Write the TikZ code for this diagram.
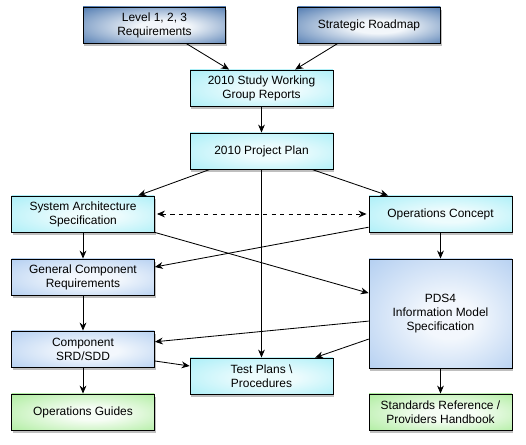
\documentclass[tikz,border=0pt]{standalone}
\usepackage{fontspec}
\setmainfont{Liberation Sans}
\usepackage{tikz}
\definecolor{roadblue}{HTML}{4572AC}
\definecolor{roadpale}{HTML}{F2F6FA}
\definecolor{studycyan}{HTML}{A6EEF7}
\definecolor{specblue}{HTML}{AFCCF0}
\definecolor{guidegreen}{HTML}{A9EC99}
\colorlet{glowin}{white}
\colorlet{glowout}{gray}
\usetikzlibrary{arrows.meta,shadows}
\pgfdeclareradialshading[glowin,glowout]{glow}{\pgfpoint{4bp}{-3bp}}{color(0bp)=(glowin);
  color(9bp)=(glowin); color(39bp)=(glowout); color(50bp)=(glowout)}

\begin{document}
\begin{tikzpicture}[x=0.025cm,y=-0.025cm,
  box/.style={draw=black,line width=0.6pt,align=center,minimum width=3.57cm,minimum height=0.9cm,
    inner sep=1pt,font=\fontsize{8.5}{9.9}\selectfont,shading=glow,
    drop shadow={opacity=0.5,shadow xshift=0.35mm,shadow yshift=-0.7mm}},
  topbox/.style={/utils/exec={\colorlet{glowin}{roadpale}\colorlet{glowout}{roadblue}},box},
  cyanbox/.style={/utils/exec={\colorlet{glowin}{studycyan!20}\colorlet{glowout}{studycyan}},box},
  bluebox/.style={/utils/exec={\colorlet{glowin}{specblue!15}\colorlet{glowout}{specblue}},box},
  greenbox/.style={/utils/exec={\colorlet{glowin}{guidegreen!10}\colorlet{glowout}{guidegreen}},box},
  flow/.style={-{Stealth[length=2mm,width=1.7mm]},line width=0.6pt}]
\useasboundingbox (0,0) rectangle (526,445);
% top row
\node[topbox] (levels) at (154.5,25) {Level 1, 2, 3\\Requirements};
\node[topbox] (roadmap) at (369,25) {Strategic Roadmap};
\node[cyanbox] (study) at (261.5,88) {2010 Study Working\\Group Reports};
\node[cyanbox] (plan) at (261.5,151) {2010 Project Plan};
% middle
\node[cyanbox] (sysarch) at (83,214) {System Architecture\\Specification};
\node[cyanbox] (opscon) at (440.5,214) {Operations Concept};
\node[bluebox] (gencomp) at (83,277) {General Component\\Requirements};
\node[bluebox,minimum height=2.725cm] (pds) at (440.5,313.5) {PDS4\\Information Model\\Specification};
\node[bluebox] (srd) at (83,349) {Component\\SRD/SDD};
\node[cyanbox] (tests) at (261.5,376) {Test Plans \textbackslash\\Procedures};
% bottom row
\node[greenbox] (guides) at (83,412) {Operations Guides};
\node[greenbox] (handbook) at (440.5,412) {Standards Reference /\\Providers Handbook};

\draw[flow] ([xshift=0.79cm]levels.south) -- ([xshift=-0.81cm]study.north);
\draw[flow] ([xshift=-0.78cm]roadmap.south) -- ([xshift=0.84cm]study.north);
\draw[flow] (study) -- (plan);
\draw[flow] ([xshift=-1.29cm]plan.south) -- ([xshift=1.38cm]sysarch.north);
\draw[flow] ([xshift=1.26cm]plan.south) -- ([xshift=-1.31cm]opscon.north);
\draw[flow] (plan) -- (tests);
\draw[flow,dashed,{Stealth[length=2mm,width=1.7mm]}-{Stealth[length=2mm,width=1.7mm]},shorten <=1.5pt,shorten >=1.5pt] (sysarch) -- (opscon);
\draw[flow] (sysarch) -- (gencomp);
\draw[flow] (sysarch.south east) -- ([yshift=0.51cm]pds.west);
\draw[flow] ([yshift=-0.33cm]opscon.west) -- ([yshift=0.25cm]gencomp.east);
\draw[flow] (opscon) -- (pds);
\draw[flow] (gencomp) -- (srd);
\draw[flow] ([yshift=-0.19cm]pds.west) -- ([yshift=0.18cm]srd.east);
\draw[flow] ([yshift=-0.64cm]pds.west) -- ([xshift=1.34cm]tests.north);
\draw[flow] ([yshift=-0.3cm]srd.east) -- ([yshift=0.25cm]tests.west);
\draw[flow] (srd) -- (guides);
\draw[flow] (pds) -- (handbook);
\end{tikzpicture}
\end{document}
